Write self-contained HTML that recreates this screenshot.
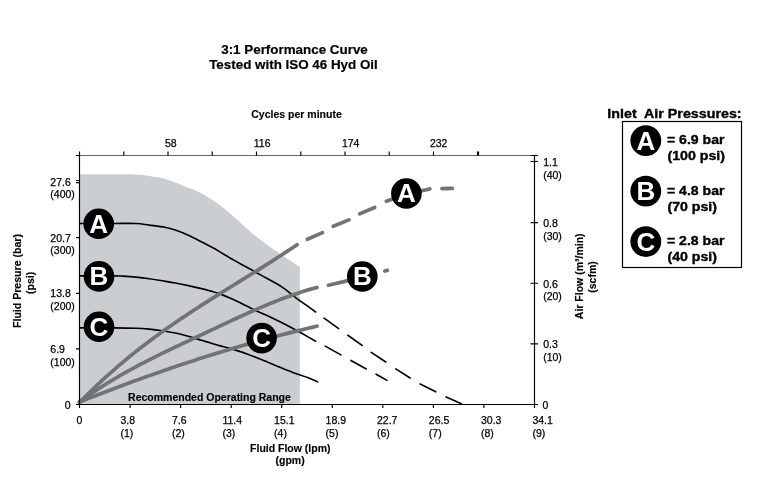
<!DOCTYPE html>
<html><head><meta charset="utf-8"><style>
html,body{margin:0;padding:0;background:#fff;width:766px;height:492px;overflow:hidden}
svg{display:block;will-change:transform}
text{font-family:"Liberation Sans",sans-serif;fill:#000}
.r{font-size:10.5px;stroke:#000;stroke-width:0.25px}
.sb{font-size:10.5px;font-weight:bold;stroke:#000;stroke-width:0.15px}
.tb{font-size:13.4px;font-weight:bold;stroke:#000;stroke-width:0.2px}
.lg{font-size:12.4px;font-weight:bold;stroke:#000;stroke-width:0.35px}
.cl{font-weight:bold;fill:#fff;text-anchor:middle}
.bk{fill:none;stroke:#000;stroke-width:1.65;stroke-linecap:round;stroke-linejoin:round}
.gr{fill:none;stroke:#737373;stroke-width:3.7;stroke-linecap:round;stroke-linejoin:round}
</style></head><body>
<svg width="766" height="492" viewBox="0 0 766 492">
<path d="M80.00,174.30 C86.67,174.30 110.72,174.27 120.00,174.30 C129.28,174.33 131.70,174.33 135.70,174.50 C139.70,174.67 141.30,174.98 144.00,175.30 C146.70,175.62 149.23,176.02 151.90,176.40 C154.57,176.78 157.33,176.98 160.00,177.60 C162.67,178.22 165.25,179.23 167.90,180.10 C170.55,180.97 173.25,181.83 175.90,182.80 C178.55,183.77 180.97,184.78 183.80,185.90 C186.63,187.02 190.05,188.30 192.90,189.50 C195.75,190.70 198.25,191.72 200.90,193.10 C203.55,194.48 206.25,196.22 208.80,197.80 C211.35,199.38 213.68,200.85 216.20,202.60 C218.72,204.35 221.32,206.22 223.90,208.30 C226.48,210.38 229.02,212.77 231.70,215.10 C234.38,217.43 237.30,219.88 240.00,222.30 C242.70,224.72 245.25,227.27 247.90,229.60 C250.55,231.93 253.25,234.18 255.90,236.30 C258.55,238.42 260.97,240.17 263.80,242.30 C266.63,244.43 270.37,247.27 272.90,249.10 C275.43,250.93 276.25,251.47 279.00,253.30 C281.75,255.13 286.45,258.15 289.40,260.10 C292.35,262.05 294.97,263.88 296.70,265.00 C298.43,266.12 299.28,266.50 299.80,266.80 L299.8,404 L80,404 Z" fill="#caced1"/>
<path d="M80.00,223.50 C85.65,223.50 104.55,223.50 113.90,223.50 C123.25,223.50 130.22,223.23 136.10,223.50 C141.98,223.77 144.42,224.48 149.20,225.10 C153.98,225.72 160.45,226.38 164.80,227.20 C169.15,228.02 171.38,228.67 175.30,230.00 C179.22,231.33 183.95,233.23 188.30,235.20 C192.65,237.17 197.78,239.95 201.40,241.80 C205.02,243.65 207.03,244.70 210.00,246.30 C212.97,247.90 215.30,249.13 219.20,251.40 C223.10,253.67 228.65,257.18 233.40,259.90 C238.15,262.62 242.95,265.08 247.70,267.70 C252.45,270.32 257.52,273.18 261.90,275.60 C266.28,278.02 270.32,280.08 274.00,282.20 C277.68,284.32 280.77,286.03 284.00,288.30 C287.23,290.57 291.02,293.92 293.40,295.80 C295.78,297.68 295.92,297.87 298.30,299.60 C300.68,301.33 304.82,304.13 307.70,306.20 C310.58,308.27 314.28,311.03 315.60,312.00" class="bk"/>
<path d="M80.00,275.90 C85.65,275.88 106.72,275.77 113.90,275.80 C121.08,275.83 119.40,275.88 123.10,276.10 C126.80,276.32 131.75,276.67 136.10,277.10 C140.45,277.53 144.85,278.08 149.20,278.70 C153.55,279.32 157.85,280.08 162.20,280.80 C166.55,281.52 170.95,282.20 175.30,283.00 C179.65,283.80 183.95,284.67 188.30,285.60 C192.65,286.53 197.78,287.72 201.40,288.60 C205.02,289.48 207.03,290.07 210.00,290.90 C212.97,291.73 215.87,292.40 219.20,293.60 C222.53,294.80 226.17,296.40 230.00,298.10 C233.83,299.80 238.13,301.83 242.20,303.80 C246.27,305.77 250.33,307.98 254.40,309.90 C258.47,311.82 262.33,313.32 266.60,315.30 C270.87,317.28 276.07,319.85 280.00,321.80 C283.93,323.75 286.82,325.22 290.20,327.00 C293.58,328.78 296.07,330.13 300.30,332.50 C304.53,334.87 313.05,339.75 315.60,341.20" class="bk"/>
<path d="M80.00,327.80 C85.65,327.80 104.55,327.73 113.90,327.80 C123.25,327.87 130.22,327.98 136.10,328.20 C141.98,328.42 144.85,328.68 149.20,329.10 C153.55,329.52 157.85,330.05 162.20,330.70 C166.55,331.35 170.95,332.07 175.30,333.00 C179.65,333.93 183.95,335.10 188.30,336.30 C192.65,337.50 197.78,339.12 201.40,340.20 C205.02,341.28 207.03,341.90 210.00,342.80 C212.97,343.70 215.30,344.50 219.20,345.60 C223.10,346.70 228.65,347.95 233.40,349.40 C238.15,350.85 242.95,352.57 247.70,354.30 C252.45,356.03 256.65,357.68 261.90,359.80 C267.15,361.92 273.95,364.85 279.20,367.00 C284.45,369.15 288.65,370.93 293.40,372.70 C298.15,374.47 303.67,376.07 307.70,377.60 C311.73,379.13 315.95,381.18 317.60,381.90" class="bk"/>
<path d="M324.11,318.16 L338.69,328.64 M347.81,335.26 L362.09,345.44 M371.22,352.34 L385.78,361.96 M395.73,368.83 L410.17,377.97 M420.16,383.98 L435.74,391.82 M446.17,396.96 L461.33,403.74" class="bk"/>
<path d="M325.15,346.10 L340.95,354.90 M350.95,360.41 L366.25,368.99 M376.14,374.21 L386.96,380.39" class="bk"/>
<path d="M79.50,402.53 C80.16,401.85 82.14,399.82 83.45,398.48 C84.77,397.15 86.09,395.83 87.41,394.52 C88.73,393.21 90.05,391.91 91.36,390.63 C92.68,389.35 94.00,388.08 95.32,386.82 C96.64,385.56 97.95,384.31 99.27,383.08 C100.59,381.84 101.91,380.62 103.23,379.41 C104.55,378.20 105.86,377.00 107.18,375.81 C108.50,374.62 109.82,373.44 111.14,372.28 C112.45,371.11 113.77,369.95 115.09,368.81 C116.41,367.66 117.73,366.53 119.05,365.41 C120.36,364.28 121.68,363.17 123.00,362.06 C124.32,360.96 125.64,359.86 126.95,358.78 C128.27,357.69 129.59,356.62 130.91,355.55 C132.23,354.48 133.55,353.43 134.86,352.38 C136.18,351.33 137.50,350.29 138.82,349.26 C140.14,348.23 141.45,347.21 142.77,346.19 C144.09,345.18 145.41,344.17 146.73,343.17 C148.05,342.17 149.36,341.18 150.68,340.20 C152.00,339.22 153.32,338.24 154.64,337.27 C155.95,336.30 157.27,335.34 158.59,334.39 C159.91,333.43 161.23,332.48 162.55,331.54 C163.86,330.60 165.18,329.67 166.50,328.74 C167.82,327.81 169.14,326.89 170.45,325.97 C171.77,325.05 173.09,324.14 174.41,323.24 C175.73,322.33 177.05,321.43 178.36,320.54 C179.68,319.64 181.00,318.75 182.32,317.87 C183.64,316.98 184.95,316.10 186.27,315.23 C187.59,314.35 188.91,313.48 190.23,312.61 C191.55,311.74 192.86,310.88 194.18,310.02 C195.50,309.16 196.82,308.31 198.14,307.45 C199.45,306.60 200.77,305.75 202.09,304.91 C203.41,304.06 204.73,303.22 206.05,302.38 C207.36,301.54 208.68,300.70 210.00,299.87 C211.32,299.04 212.64,298.20 213.95,297.37 C215.27,296.54 216.59,295.72 217.91,294.89 C219.23,294.06 220.55,293.24 221.86,292.42 C223.18,291.59 224.50,290.77 225.82,289.95 C227.14,289.13 228.45,288.31 229.77,287.50 C231.09,286.68 232.41,285.86 233.73,285.04 C235.05,284.23 236.36,283.41 237.68,282.59 C239.00,281.78 240.32,280.96 241.64,280.14 C242.95,279.33 244.27,278.51 245.59,277.69 C246.91,276.87 248.23,276.05 249.55,275.24 C250.86,274.42 252.18,273.60 253.50,272.78 C254.82,271.95 256.14,271.13 257.45,270.31 C258.77,269.48 260.09,268.66 261.41,267.83 C262.73,267.00 264.05,266.17 265.36,265.34 C266.68,264.51 268.00,263.67 269.32,262.84 C270.64,262.00 271.95,261.16 273.27,260.32 C274.59,259.48 275.91,258.63 277.23,257.78 C278.55,256.93 279.86,256.08 281.18,255.23 C282.50,254.37 283.82,253.51 285.14,252.65 C286.45,251.79 287.77,250.92 289.09,250.05 C290.41,249.18 291.73,248.30 293.05,247.42 C294.36,246.54 296.34,245.21 297.00,244.77" class="gr"/>
<path d="M79.50,401.85 C80.16,401.38 82.14,399.95 83.46,399.01 C84.78,398.08 86.10,397.15 87.42,396.24 C88.74,395.33 90.06,394.42 91.38,393.53 C92.69,392.64 94.01,391.76 95.33,390.89 C96.65,390.02 97.97,389.15 99.29,388.30 C100.61,387.45 101.93,386.61 103.25,385.77 C104.57,384.94 105.89,384.12 107.21,383.30 C108.53,382.49 109.85,381.68 111.17,380.88 C112.49,380.08 113.81,379.29 115.12,378.51 C116.44,377.73 117.76,376.96 119.08,376.19 C120.40,375.43 121.72,374.67 123.04,373.92 C124.36,373.17 125.68,372.42 127.00,371.69 C128.32,370.95 129.64,370.22 130.96,369.50 C132.28,368.77 133.60,368.06 134.92,367.34 C136.24,366.63 137.56,365.93 138.88,365.23 C140.19,364.53 141.51,363.84 142.83,363.15 C144.15,362.46 145.47,361.78 146.79,361.10 C148.11,360.42 149.43,359.75 150.75,359.08 C152.07,358.41 153.39,357.74 154.71,357.08 C156.03,356.42 157.35,355.77 158.67,355.11 C159.99,354.46 161.31,353.81 162.62,353.17 C163.94,352.52 165.26,351.88 166.58,351.24 C167.90,350.60 169.22,349.96 170.54,349.33 C171.86,348.70 173.18,348.06 174.50,347.43 C175.82,346.80 177.14,346.18 178.46,345.55 C179.78,344.93 181.10,344.30 182.42,343.68 C183.74,343.06 185.06,342.44 186.38,341.82 C187.69,341.19 189.01,340.58 190.33,339.96 C191.65,339.34 192.97,338.72 194.29,338.10 C195.61,337.48 196.93,336.86 198.25,336.25 C199.57,335.63 200.89,335.01 202.21,334.39 C203.53,333.77 204.85,333.15 206.17,332.53 C207.49,331.91 208.81,331.29 210.12,330.66 C211.44,330.04 212.76,329.42 214.08,328.80 C215.40,328.18 216.72,327.55 218.04,326.93 C219.36,326.31 220.68,325.69 222.00,325.07 C223.32,324.45 224.64,323.83 225.96,323.21 C227.28,322.59 228.60,321.98 229.92,321.36 C231.24,320.75 232.56,320.13 233.88,319.52 C235.19,318.91 236.51,318.30 237.83,317.69 C239.15,317.09 240.47,316.48 241.79,315.88 C243.11,315.28 244.43,314.68 245.75,314.08 C247.07,313.49 248.39,312.90 249.71,312.31 C251.03,311.72 252.35,311.13 253.67,310.55 C254.99,309.97 256.31,309.40 257.62,308.82 C258.94,308.25 260.26,307.68 261.58,307.12 C262.90,306.56 264.22,306.00 265.54,305.45 C266.86,304.90 268.18,304.35 269.50,303.81 C270.82,303.26 272.14,302.73 273.46,302.20 C274.78,301.67 276.10,301.14 277.42,300.63 C278.74,300.11 280.06,299.60 281.38,299.09 C282.69,298.59 284.01,298.09 285.33,297.60 C286.65,297.11 287.97,296.63 289.29,296.15 C290.61,295.68 291.93,295.21 293.25,294.75 C294.57,294.29 295.89,293.84 297.21,293.39 C298.53,292.95 299.85,292.52 301.17,292.09 C302.49,291.66 303.81,291.25 305.12,290.84 C306.44,290.43 307.76,290.03 309.08,289.64 C310.40,289.25 311.72,288.87 313.04,288.51 C314.36,288.14 316.34,287.61 317.00,287.43" class="gr"/>
<path d="M79.50,402.02 C80.16,401.75 82.14,400.97 83.46,400.44 C84.78,399.92 86.10,399.40 87.42,398.88 C88.74,398.36 90.06,397.84 91.38,397.32 C92.69,396.80 94.01,396.29 95.33,395.77 C96.65,395.26 97.97,394.75 99.29,394.24 C100.61,393.73 101.93,393.22 103.25,392.71 C104.57,392.20 105.89,391.70 107.21,391.19 C108.53,390.69 109.85,390.19 111.17,389.68 C112.49,389.18 113.81,388.68 115.12,388.19 C116.44,387.69 117.76,387.19 119.08,386.70 C120.40,386.20 121.72,385.71 123.04,385.22 C124.36,384.73 125.68,384.24 127.00,383.75 C128.32,383.27 129.64,382.78 130.96,382.30 C132.28,381.81 133.60,381.33 134.92,380.85 C136.24,380.37 137.56,379.89 138.88,379.41 C140.19,378.93 141.51,378.46 142.83,377.98 C144.15,377.51 145.47,377.04 146.79,376.57 C148.11,376.09 149.43,375.63 150.75,375.16 C152.07,374.69 153.39,374.23 154.71,373.76 C156.03,373.30 157.35,372.84 158.67,372.38 C159.99,371.92 161.31,371.46 162.62,371.00 C163.94,370.55 165.26,370.09 166.58,369.64 C167.90,369.18 169.22,368.73 170.54,368.28 C171.86,367.83 173.18,367.39 174.50,366.94 C175.82,366.49 177.14,366.05 178.46,365.61 C179.78,365.16 181.10,364.72 182.42,364.29 C183.74,363.85 185.06,363.41 186.38,362.97 C187.69,362.54 189.01,362.11 190.33,361.67 C191.65,361.24 192.97,360.81 194.29,360.39 C195.61,359.96 196.93,359.53 198.25,359.11 C199.57,358.68 200.89,358.26 202.21,357.84 C203.53,357.42 204.85,357.00 206.17,356.58 C207.49,356.17 208.81,355.75 210.12,355.34 C211.44,354.93 212.76,354.52 214.08,354.11 C215.40,353.70 216.72,353.29 218.04,352.88 C219.36,352.48 220.68,352.08 222.00,351.67 C223.32,351.27 224.64,350.87 225.96,350.47 C227.28,350.08 228.60,349.68 229.92,349.29 C231.24,348.89 232.56,348.50 233.88,348.11 C235.19,347.72 236.51,347.33 237.83,346.95 C239.15,346.56 240.47,346.18 241.79,345.79 C243.11,345.41 244.43,345.03 245.75,344.65 C247.07,344.27 248.39,343.90 249.71,343.52 C251.03,343.15 252.35,342.78 253.67,342.41 C254.99,342.03 256.31,341.67 257.62,341.30 C258.94,340.93 260.26,340.57 261.58,340.21 C262.90,339.84 264.22,339.48 265.54,339.12 C266.86,338.76 268.18,338.41 269.50,338.05 C270.82,337.70 272.14,337.35 273.46,337.00 C274.78,336.65 276.10,336.30 277.42,335.95 C278.74,335.60 280.06,335.26 281.38,334.92 C282.69,334.57 284.01,334.23 285.33,333.90 C286.65,333.56 287.97,333.22 289.29,332.89 C290.61,332.55 291.93,332.22 293.25,331.89 C294.57,331.56 295.89,331.23 297.21,330.91 C298.53,330.58 299.85,330.26 301.17,329.94 C302.49,329.61 303.81,329.29 305.12,328.98 C306.44,328.66 307.76,328.34 309.08,328.03 C310.40,327.72 311.72,327.41 313.04,327.10 C314.36,326.79 316.34,326.33 317.00,326.18" class="gr"/>
<path d="M307.39,239.26 L322.51,232.64 M333.21,226.30 L348.99,219.90 M359.60,213.87 L374.70,207.43 M386.35,201.20 L401.25,196.10 M412.81,192.62 L429.89,188.98 M441.85,188.57 L452.35,188.43" class="gr"/>
<path d="M328.30,285.18 L350.20,280.12 M384.79,271.04 L387.41,270.36" class="gr"/>
<path d="M76.5,155.5 H538" stroke="#666" stroke-width="1" fill="none"/>
<path d="M76,404.5 H538 M79.5,152 V408.0 M76,155.5 H79.5 M530.5,155.5 H538 M534.5,155.5 V408.0 M79.5,151.5 V155.5 M123.8,151.5 V155.5 M168.0,151.5 V155.5 M212.2,151.5 V155.5 M256.5,151.5 V155.5 M300.8,151.5 V155.5 M345.0,151.5 V155.5 M389.2,151.5 V155.5 M433.5,151.5 V155.5 M477.8,151.5 V155.5 M477.5,151.5 V155.5 M478.5,151.5 V155.5 M79.5,404.5 V408 M130.1,404.5 V408 M180.6,404.5 V408 M231.2,404.5 V408 M281.7,404.5 V408 M332.3,404.5 V408 M382.8,404.5 V408 M433.4,404.5 V408 M483.9,404.5 V408 M534.5,404.5 V408 M76,404.5 H79.5 M76,348.9 H79.5 M76,293.3 H79.5 M76,237.6 H79.5 M76,182.6 H79.5 M76,180.5 H79.5 M530.5,404.5 H538 M530.5,343.8 H538 M530.5,283.2 H538 M530.5,222.6 H538 M530.5,161.5 H538" stroke="#000" stroke-width="1.15" fill="none"/>
<circle cx="98.7" cy="223.7" r="15.3" fill="#000"/><text x="98.70" y="232.64" class="cl" font-size="26.0">A</text>
<circle cx="99.0" cy="276.4" r="15.3" fill="#000"/><text x="99.00" y="285.34" class="cl" font-size="26.0">B</text>
<circle cx="99.0" cy="326.8" r="15.3" fill="#000"/><text x="99.00" y="335.74" class="cl" font-size="26.0">C</text>
<circle cx="261.6" cy="338.1" r="15.3" fill="#000"/><text x="261.60" y="347.04" class="cl" font-size="26.0">C</text>
<circle cx="362.3" cy="276.5" r="15.3" fill="#000"/><text x="362.30" y="285.44" class="cl" font-size="26.0">B</text>
<circle cx="406.4" cy="193.5" r="15.3" fill="#000"/><text x="406.40" y="202.44" class="cl" font-size="26.0">A</text>
<text x="294.5" y="54.4" class="tb" text-anchor="middle">3:1 Performance Curve</text>
<text x="293.5" y="69.2" class="tb" text-anchor="middle">Tested with ISO 46 Hyd Oil</text>
<text x="296.5" y="117.8" class="sb" text-anchor="middle">Cycles per minute</text>
<text x="170.8" y="146.8" class="r" text-anchor="middle">58</text>
<text x="262.2" y="146.8" class="r" text-anchor="middle">116</text>
<text x="350.7" y="146.8" class="r" text-anchor="middle">174</text>
<text x="438.7" y="146.8" class="r" text-anchor="middle">232</text>
<text x="79.5" y="424.0" class="r" text-anchor="middle">0</text>
<text x="120.5" y="424.0" class="r" text-anchor="start">3.8</text>
<text x="120.5" y="437.3" class="r" text-anchor="start">(1)</text>
<text x="172.0" y="424.0" class="r" text-anchor="start">7.6</text>
<text x="172.0" y="437.3" class="r" text-anchor="start">(2)</text>
<text x="222.4" y="424.0" class="r" text-anchor="start">11.4</text>
<text x="222.4" y="437.3" class="r" text-anchor="start">(3)</text>
<text x="274.1" y="424.0" class="r" text-anchor="start">15.1</text>
<text x="274.1" y="437.3" class="r" text-anchor="start">(4)</text>
<text x="325.6" y="424.0" class="r" text-anchor="start">18.9</text>
<text x="325.6" y="437.3" class="r" text-anchor="start">(5)</text>
<text x="377.0" y="424.0" class="r" text-anchor="start">22.7</text>
<text x="377.0" y="437.3" class="r" text-anchor="start">(6)</text>
<text x="428.8" y="424.0" class="r" text-anchor="start">26.5</text>
<text x="428.8" y="437.3" class="r" text-anchor="start">(7)</text>
<text x="481.0" y="424.0" class="r" text-anchor="start">30.3</text>
<text x="481.0" y="437.3" class="r" text-anchor="start">(8)</text>
<text x="532.4" y="424.0" class="r" text-anchor="start">34.1</text>
<text x="532.4" y="437.3" class="r" text-anchor="start">(9)</text>
<text x="290.3" y="451.6" class="sb" text-anchor="middle">Fluid Flow (lpm)</text>
<text x="290.1" y="464.0" class="sb" text-anchor="middle">(gpm)</text>
<text x="67.6" y="409.0" class="r" text-anchor="middle">0</text>
<text x="50.3" y="353.0" class="r" text-anchor="start">6.9</text>
<text x="50.3" y="365.5" class="r" text-anchor="start">(100)</text>
<text x="50.3" y="297.0" class="r" text-anchor="start">13.8</text>
<text x="50.3" y="309.5" class="r" text-anchor="start">(200)</text>
<text x="50.3" y="241.8" class="r" text-anchor="start">20.7</text>
<text x="50.3" y="254.3" class="r" text-anchor="start">(300)</text>
<text x="50.3" y="185.9" class="r" text-anchor="start">27.6</text>
<text x="50.3" y="198.4" class="r" text-anchor="start">(400)</text>
<text x="543.2" y="348.3" class="r" text-anchor="start">0.3</text>
<text x="543.2" y="360.8" class="r" text-anchor="start">(10)</text>
<text x="543.2" y="287.7" class="r" text-anchor="start">0.6</text>
<text x="543.2" y="300.2" class="r" text-anchor="start">(20)</text>
<text x="543.2" y="227.1" class="r" text-anchor="start">0.8</text>
<text x="543.2" y="239.6" class="r" text-anchor="start">(30)</text>
<text x="543.2" y="166.0" class="r" text-anchor="start">1.1</text>
<text x="543.2" y="178.5" class="r" text-anchor="start">(40)</text>
<text x="542.6" y="409.3" class="r" text-anchor="start">0</text>
<text transform="translate(21.4,281) rotate(-90)" class="sb" text-anchor="middle" textLength="94" lengthAdjust="spacingAndGlyphs">Fluid Presure (bar)</text>
<text transform="translate(33.6,282.8) rotate(-90)" class="sb" text-anchor="middle">(psi)</text>
<text transform="translate(582.8,276.3) rotate(-90)" class="sb" text-anchor="middle">Air Flow (m&#179;/min)</text>
<text transform="translate(596.2,277) rotate(-90)" class="sb" text-anchor="middle" textLength="31.5" lengthAdjust="spacingAndGlyphs">(scfm)</text>
<text x="128.1" y="400.9" class="sb" text-anchor="start">Recommended Operating Range</text>
<text x="607.3" y="117.6" class="lg" textLength="134.3" lengthAdjust="spacingAndGlyphs">Inlet&#160; Air Pressures:</text>
<rect x="622.5" y="121.5" width="119" height="146" fill="none" stroke="#000" stroke-width="1.2"/>
<circle cx="645.8" cy="140.6" r="15.4" fill="#000"/><text x="645.80" y="149.54" class="cl" font-size="26.0">A</text>
<text x="667" y="144.4" class="lg" textLength="57.5" lengthAdjust="spacingAndGlyphs">= 6.9 bar</text>
<text x="667.5" y="160.4" class="lg" textLength="57.5" lengthAdjust="spacingAndGlyphs">(100 psi)</text>
<circle cx="645.8" cy="191.1" r="15.4" fill="#000"/><text x="645.80" y="200.04" class="cl" font-size="26.0">B</text>
<text x="667" y="194.9" class="lg" textLength="57.5" lengthAdjust="spacingAndGlyphs">= 4.8 bar</text>
<text x="667.5" y="210.9" class="lg" textLength="49.5" lengthAdjust="spacingAndGlyphs">(70 psi)</text>
<circle cx="645.8" cy="241.6" r="15.4" fill="#000"/><text x="645.80" y="250.54" class="cl" font-size="26.0">C</text>
<text x="667" y="245.4" class="lg" textLength="57.5" lengthAdjust="spacingAndGlyphs">= 2.8 bar</text>
<text x="667.5" y="261.4" class="lg" textLength="49.5" lengthAdjust="spacingAndGlyphs">(40 psi)</text>
</svg>
</body></html>
